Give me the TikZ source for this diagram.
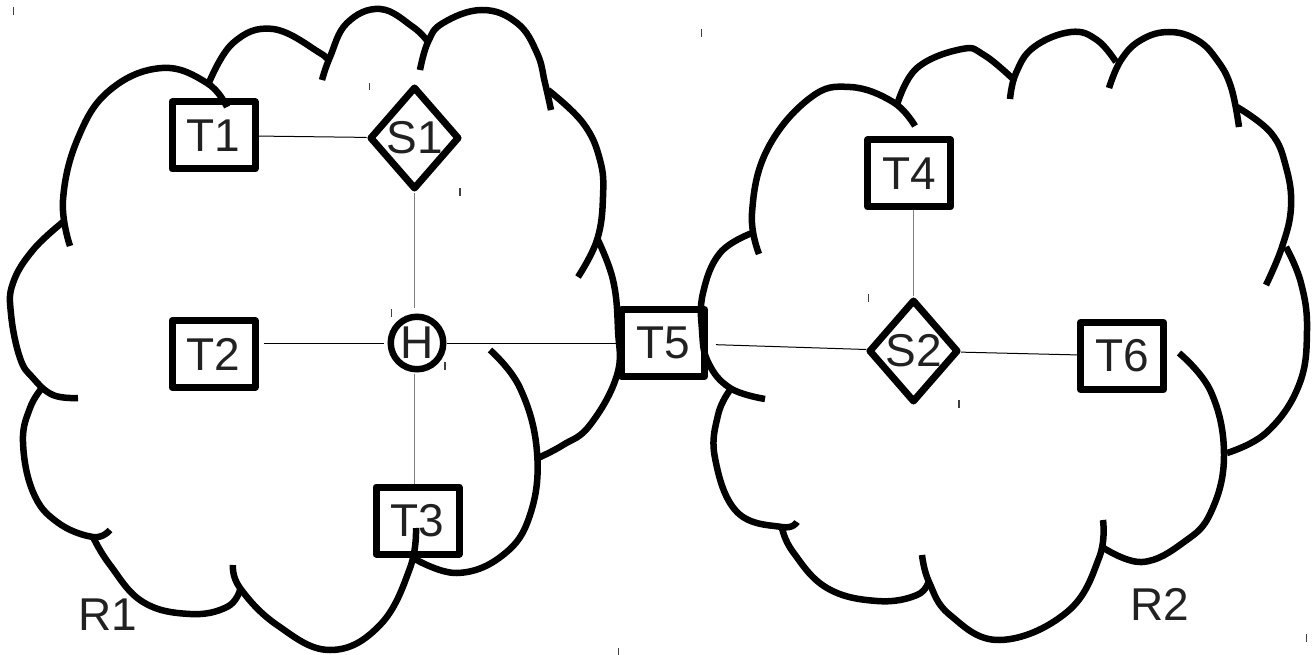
\documentclass[tikz,border=0pt]{standalone}
\usepackage{fontspec}
\setmainfont{Liberation Sans}
\usetikzlibrary{shapes.geometric}
\definecolor{txt}{gray}{0.13}
\definecolor{glinec}{gray}{0.5}
\begin{document}
\begin{tikzpicture}[x=1pt,y=-1pt,
  cloudline/.style={line width=6.5pt, black},
  term/.style={draw, rectangle, line width=7pt, line join=round, minimum width=83pt, minimum height=67pt, inner sep=0pt, text=txt, font={\fontsize{46pt}{50pt}\selectfont}},
  sw/.style={draw, diamond, line width=7pt, line join=round, minimum width=90pt, minimum height=103pt, inner sep=0pt, text=txt, font={\fontsize{46pt}{50pt}\selectfont}},
  hub/.style={draw, circle, line width=6.5pt, minimum size=52.5pt, inner sep=0pt, text=txt, font={\fontsize{46pt}{50pt}\selectfont}},
  region/.style={text=txt, font={\fontsize{46pt}{50pt}\selectfont}, inner sep=0pt},
  link/.style={line width=1pt, black},
  glink/.style={line width=1.5pt, glinec},
  tickmark/.style={line width=1.2pt, black!75}]
\useasboundingbox (0,0) rectangle (1314,655);

% ---- cloud R1 ----
\draw[cloudline] plot[smooth, tension=0.7] coordinates {(70,246) (63,200) (78,138) (110,90) (162,68) (207,83) (227,107)};
\draw[cloudline] plot[smooth, tension=0.7] coordinates {(208,85) (233,43) (273,29) (320,53) (326,60)};
\draw[cloudline] plot[smooth, tension=0.7] coordinates {(322,80) (330,57) (347,23) (380,9) (413,27) (428,42)};
\draw[cloudline] plot[smooth, tension=0.7] coordinates {(420,70) (428,42) (443,23) (482,10) (517,23) (537,53) (545,83) (551,110)};
\draw[cloudline] plot[smooth, tension=0.7] coordinates {(548,90) (583,123) (600,160) (603,197) (597,240) (578,277)};
\draw[cloudline] plot[smooth, tension=0.7] coordinates {(597,238) (613,280) (618,330) (617,375) (590,425) (563,445) (538,458)};
\draw[cloudline] plot[smooth, tension=0.7] coordinates {(490,350) (520,388) (537,452) (530,515) (503,555) (457,573) (413,558)};
\draw[cloudline] plot[smooth, tension=0.7] coordinates {(416,528) (410,568) (380,625) (330,650) (277,625) (240,588) (233,565)};
\draw[cloudline] plot[smooth, tension=0.7] coordinates {(240,590) (227,607) (190,614) (143,602) (110,565) (93,537)};
\draw[cloudline] plot[smooth, tension=0.7] coordinates {(110,530) (93,537) (57,522) (33,492) (23,442) (30,408) (42,388)};
\draw[cloudline] plot[smooth, tension=0.7] coordinates {(78,398) (53,395) (33,378) (20,358) (11,314) (13,283) (33,250) (63,222)};

% ---- cloud R2 ----
\draw[cloudline] plot[smooth, tension=0.7] coordinates {(759,254) (752,213) (767,150) (810,98) (850,87) (893,102) (915,126)};
\draw[cloudline] plot[smooth, tension=0.7] coordinates {(897,105) (917,68) (962,49) (984,55) (1012,78)};
\draw[cloudline] plot[smooth, tension=0.7] coordinates {(1010,99) (1016,73) (1034,47) (1071,32) (1097,40) (1116,62)};
\draw[cloudline] plot[smooth, tension=0.7] coordinates {(1109,88) (1121,60) (1141,40) (1169,32) (1197,40) (1217,60) (1231,87) (1239,127)};
\draw[cloudline] plot[smooth, tension=0.7] coordinates {(1237,107) (1271,133) (1286,167) (1291,207) (1282,247) (1266,285)};
\draw[cloudline] plot[smooth, tension=0.7] coordinates {(1286,247) (1301,283) (1307,330) (1299,385) (1267,432) (1227,453)};
\draw[cloudline] plot[smooth, tension=0.7] coordinates {(1179,353) (1211,392) (1224,455) (1211,512) (1184,542) (1142,562) (1102,547)};
\draw[cloudline] plot[smooth, tension=0.7] coordinates {(1103,520) (1099,558) (1067,612) (1000,640) (950,615) (929,582) (922,555)};
\draw[cloudline] plot[smooth, tension=0.7] coordinates {(929,580) (917,595) (877,601) (827,588) (793,552) (782,528)};
\draw[cloudline] plot[smooth, tension=0.7] coordinates {(797,522) (782,527) (737,512) (715,458) (718,415) (730,390)};
\draw[cloudline] plot[smooth, tension=0.7] coordinates {(765,399) (730,388) (708,362) (702,330) (703,293) (720,253) (752,233)};

% ---- nodes ----
\node[term] (T1) at (213.5,135.5) {T1};
\node[term] (T2) at (213.5,354) {T2};
\node[term] (T3) at (417.5,520.5) {T3};
\node[term] (T4) at (909,173.5) {T4};
\node[term] (T5) at (663,343) {T5};
\node[term] (T6) at (1122,356) {T6};
\node[sw] (S1) at (414.5,138) {S1};
\node[sw] (S2) at (913.5,351) {S2};
\node[hub] (H) at (417,343) {H};
\node[region] (R1) at (108,615) {R1};
\node[region] (R2) at (1160,604) {R2};

% ---- connectors ----
\draw[link] (T1) -- (S1);
\draw[link, shorten <=5pt, shorten >=4pt] (T2.east |- H.west) -- (H.west);
\draw[link] (H) -- (T5);
\draw[link, shorten <=8pt] (T5) -- (S2);
\draw[link] (S2) -- (T6);
\draw[glink, shorten >=6pt] (S1.south) -- (S1.south |- H.north);
\draw[glink, shorten <=1pt] (S1.south |- H.south) -- (S1.south |- T3.north);
\draw[glink] (S2.north) -- (S2.north |- T4.south);

% ---- small handle marks ----
\draw[tickmark] (13.3,7) -- (13.3,15);
\draw[tickmark] (369.3,83) -- (369.3,90);
\draw[tickmark] (460,188) -- (460,196);
\draw[tickmark] (391.7,309) -- (391.7,317);
\draw[tickmark] (445,362) -- (445,370);
\draw[tickmark] (618.7,648) -- (618.7,655);
\draw[tickmark] (701.7,29) -- (701.7,37);
\draw[tickmark] (868.3,294) -- (868.3,302);
\draw[tickmark] (959,400) -- (959,408);
\draw[tickmark] (1306.7,634) -- (1306.7,642);
\end{tikzpicture}
\end{document}
